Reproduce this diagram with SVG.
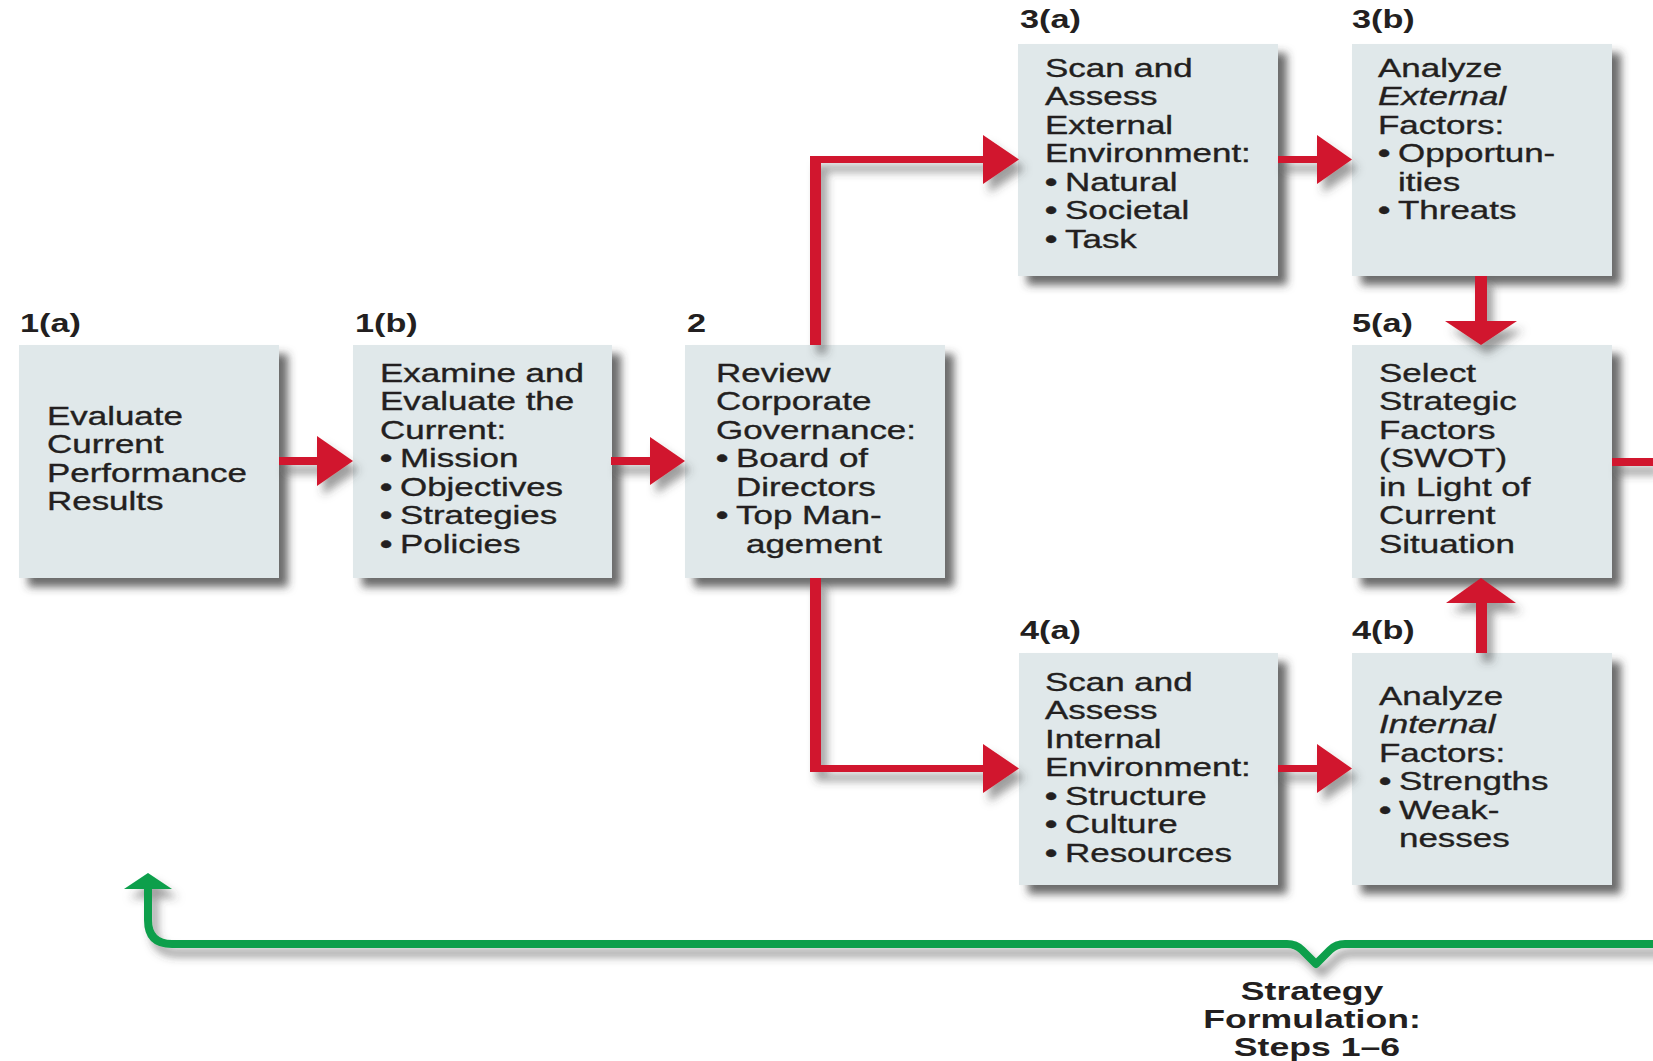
<svg xmlns="http://www.w3.org/2000/svg" width="1653" height="1061" viewBox="0 0 1653 1061">
<defs>
<filter id="sh" x="-10%" y="-10%" width="130%" height="130%">
<feDropShadow dx="9" dy="9" stdDeviation="4.5" flood-color="#3a3a3a" flood-opacity="0.75"/>
</filter>
<filter id="csh" x="-5%" y="-5%" width="115%" height="115%">
<feDropShadow dx="6" dy="9" stdDeviation="4.5" flood-color="#3a3a3a" flood-opacity="0.5"/>
</filter>
</defs>
<style>
.box{fill:#e0e8ea;filter:url(#sh)}
.t{font-family:"Liberation Sans",Arial,sans-serif;font-size:25.5px;fill:#231f20;stroke:#231f20;stroke-width:0.35px}
.b{font-weight:bold}
.lb{font-family:"Liberation Sans",Arial,sans-serif;font-size:25px;font-weight:bold;fill:#231f20}
.ft{font-family:"Liberation Sans",Arial,sans-serif;font-size:26px;font-weight:bold;fill:#231f20;text-anchor:middle}
.i{font-style:italic}
.red{fill:#d1172d}
.grn{fill:none;stroke:#0a9f4c;stroke-width:8;stroke-linejoin:round}
.gh{fill:#0a9f4c}
</style>
<rect width="1653" height="1061" fill="#ffffff"/>

<g id="node-1a">
<rect class="box" x="19" y="345" width="260" height="233"/>
<g transform="translate(20 0) scale(1.37 1)"><text class="lb" y="332">1(a)</text></g>
<g transform="translate(47 0) scale(1.37 1)"><text class="t">
<tspan x="0" y="425">Evaluate</tspan>
<tspan x="0" y="453.5">Current</tspan>
<tspan x="0" y="482">Performance</tspan>
<tspan x="0" y="510.5">Results</tspan>
</text></g>
</g>

<g id="node-1b">
<rect class="box" x="353" y="345" width="259" height="233"/>
<g transform="translate(355 0) scale(1.37 1)"><text class="lb" y="332">1(b)</text></g>
<g transform="translate(380 0) scale(1.37 1)"><text class="t">
<tspan x="0" y="382">Examine and</tspan>
<tspan x="0" y="410.5">Evaluate the</tspan>
<tspan x="0" y="439">Current:</tspan>
<tspan x="0" y="467.5" class="b">•</tspan><tspan x="14.6" y="467.5">Mission</tspan>
<tspan x="0" y="496" class="b">•</tspan><tspan x="14.6" y="496">Objectives</tspan>
<tspan x="0" y="524.5" class="b">•</tspan><tspan x="14.6" y="524.5">Strategies</tspan>
<tspan x="0" y="553" class="b">•</tspan><tspan x="14.6" y="553">Policies</tspan>
</text></g>
</g>

<g id="node-2">
<rect class="box" x="685" y="345" width="260" height="233"/>
<g transform="translate(687 0) scale(1.37 1)"><text class="lb" y="332">2</text></g>
<g transform="translate(716 0) scale(1.37 1)"><text class="t">
<tspan x="0" y="382">Review</tspan>
<tspan x="0" y="410.5">Corporate</tspan>
<tspan x="0" y="439">Governance:</tspan>
<tspan x="0" y="467.5" class="b">•</tspan><tspan x="14.6" y="467.5">Board of</tspan>
<tspan x="14.6" y="496">Directors</tspan>
<tspan x="0" y="524.5" class="b">•</tspan><tspan x="14.6" y="524.5">Top Man-</tspan>
<tspan x="21.9" y="553">agement</tspan>
</text></g>
</g>

<g id="node-3a">
<rect class="box" x="1018" y="44" width="260" height="232"/>
<g transform="translate(1020 0) scale(1.37 1)"><text class="lb" y="28">3(a)</text></g>
<g transform="translate(1045 0) scale(1.37 1)"><text class="t">
<tspan x="0" y="77">Scan and</tspan>
<tspan x="0" y="105.5">Assess</tspan>
<tspan x="0" y="134">External</tspan>
<tspan x="0" y="162.5">Environment:</tspan>
<tspan x="0" y="191" class="b">•</tspan><tspan x="14.6" y="191">Natural</tspan>
<tspan x="0" y="219.5" class="b">•</tspan><tspan x="14.6" y="219.5">Societal</tspan>
<tspan x="0" y="248" class="b">•</tspan><tspan x="14.6" y="248">Task</tspan>
</text></g>
</g>

<g id="node-3b">
<rect class="box" x="1352" y="44" width="260" height="232"/>
<g transform="translate(1352 0) scale(1.37 1)"><text class="lb" y="28">3(b)</text></g>
<g transform="translate(1378 0) scale(1.37 1)"><text class="t">
<tspan x="0" y="77">Analyze</tspan>
<tspan x="0" y="105.5" class="i">External</tspan>
<tspan x="0" y="134">Factors:</tspan>
<tspan x="0" y="162.5" class="b">•</tspan><tspan x="14.6" y="162.5">Opportun-</tspan>
<tspan x="14.6" y="191">ities</tspan>
<tspan x="0" y="219.5" class="b">•</tspan><tspan x="14.6" y="219.5">Threats</tspan>
</text></g>
</g>

<g id="node-5a">
<rect class="box" x="1352" y="345" width="260" height="233"/>
<g transform="translate(1352 0) scale(1.37 1)"><text class="lb" y="332">5(a)</text></g>
<g transform="translate(1379 0) scale(1.37 1)"><text class="t">
<tspan x="0" y="382">Select</tspan>
<tspan x="0" y="410.5">Strategic</tspan>
<tspan x="0" y="439">Factors</tspan>
<tspan x="0" y="467.5">(SWOT)</tspan>
<tspan x="0" y="496">in Light of</tspan>
<tspan x="0" y="524.5">Current</tspan>
<tspan x="0" y="553">Situation</tspan>
</text></g>
</g>

<g id="node-4a">
<rect class="box" x="1019" y="653" width="259" height="232"/>
<g transform="translate(1020 0) scale(1.37 1)"><text class="lb" y="639">4(a)</text></g>
<g transform="translate(1045 0) scale(1.37 1)"><text class="t">
<tspan x="0" y="691">Scan and</tspan>
<tspan x="0" y="719.5">Assess</tspan>
<tspan x="0" y="748">Internal</tspan>
<tspan x="0" y="776.5">Environment:</tspan>
<tspan x="0" y="805" class="b">•</tspan><tspan x="14.6" y="805">Structure</tspan>
<tspan x="0" y="833.5" class="b">•</tspan><tspan x="14.6" y="833.5">Culture</tspan>
<tspan x="0" y="862" class="b">•</tspan><tspan x="14.6" y="862">Resources</tspan>
</text></g>
</g>

<g id="node-4b">
<rect class="box" x="1352" y="653" width="260" height="232"/>
<g transform="translate(1352 0) scale(1.37 1)"><text class="lb" y="639">4(b)</text></g>
<g transform="translate(1379 0) scale(1.37 1)"><text class="t">
<tspan x="0" y="705">Analyze</tspan>
<tspan x="0" y="733.5" class="i">Internal</tspan>
<tspan x="0" y="762">Factors:</tspan>
<tspan x="0" y="790.5" class="b">•</tspan><tspan x="14.6" y="790.5">Strengths</tspan>
<tspan x="0" y="819" class="b">•</tspan><tspan x="14.6" y="819">Weak-</tspan>
<tspan x="14.6" y="847.5">nesses</tspan>
</text></g>
</g>

<g id="connectors" filter="url(#csh)">
<g class="red">
<rect x="279" y="457" width="39" height="8"/>
<polygon points="317,436 353,461 317,486"/>
<rect x="611" y="457" width="40" height="8"/>
<polygon points="650,437 685,461 650,485"/>
<polygon points="810,345 810,156 984,156 984,163 821,163 821,345"/>
<polygon points="983,135 1019,159.5 983,184"/>
<polygon points="810,578 810,772 984,772 984,765 821,765 821,578"/>
<polygon points="983,744 1019,768.5 983,793"/>
<rect x="1278" y="156" width="40" height="7"/>
<polygon points="1317,135 1352,159.5 1317,184"/>
<rect x="1278" y="765" width="40" height="7"/>
<polygon points="1317,744 1352,768.5 1317,793"/>
<rect x="1475" y="276" width="12" height="46"/>
<polygon points="1445,321 1517,321 1481,345"/>
<rect x="1476" y="602" width="11" height="51"/>
<polygon points="1446,603 1516,603 1481,578"/>
<rect x="1612" y="458" width="41" height="8"/>
</g>
<path class="grn" d="M1660,944 L1345,944 Q1336,944 1330,950 L1316,964 L1302,950 Q1296,944 1287,944 L172,944 Q148,944 148,920 L148,886"/>
<polygon class="gh" points="124,889 148,873 172,889"/>
</g>

<g id="footer">
<g transform="translate(1317 0) scale(1.37 1)"><text class="ft">
<tspan x="0" y="1000">Strategy</tspan>
<tspan x="0" y="1028">Formulation:</tspan>
<tspan x="0" y="1056">Steps 1–6</tspan>
</text></g>
</g>
</svg>
